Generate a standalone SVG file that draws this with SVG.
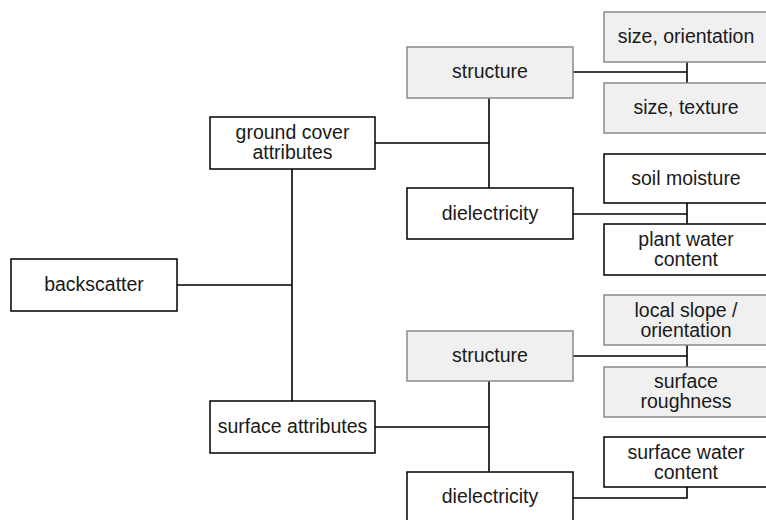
<svg xmlns="http://www.w3.org/2000/svg" width="766" height="520" viewBox="0 0 766 520">
  <style>
    .n { fill: #ffffff; stroke: #000000; stroke-width: 1.5; }
    .g { fill: #f0f0f0; stroke: #8a8a8a; stroke-width: 1.5; }
    .t { font-family: "Liberation Sans", Arial, sans-serif; font-size: 19.5px; fill: #1a1a1a; text-anchor: middle; }
    .c { fill: none; stroke: #000000; stroke-width: 1.6; }
  </style>
  <rect width="766" height="520" fill="#ffffff"/>

  <g id="connectors">
    <polyline class="c" points="177,285 292,285"/>
    <polyline class="c" points="292,169 292,401"/>
    <polyline class="c" points="375,143 489,143"/>
    <polyline class="c" points="489,98 489,188"/>
    <polyline class="c" points="375,427 489,427"/>
    <polyline class="c" points="489,381 489,472"/>
    <polyline class="c" points="573,72 687,72"/>
    <polyline class="c" points="687,62 687,83"/>
    <polyline class="c" points="573,214 687,214"/>
    <polyline class="c" points="687,203 687,224"/>
    <polyline class="c" points="573,356 687,356"/>
    <polyline class="c" points="687,345 687,367"/>
    <polyline class="c" points="573,498 687,498 687,487"/>
  </g>

  <g id="backscatter">
    <rect class="n" x="11" y="259" width="166" height="52"/>
    <text class="t" x="94" y="291">backscatter</text>
  </g>
  <g id="ground-cover-attributes">
    <rect class="n" x="210" y="117" width="165" height="52"/>
    <text class="t" x="292.5" y="139">ground cover</text>
    <text class="t" x="292.5" y="159">attributes</text>
  </g>
  <g id="surface-attributes">
    <rect class="n" x="210" y="401" width="165" height="52"/>
    <text class="t" x="292.5" y="433">surface attributes</text>
  </g>

  <g id="structure-cover">
    <rect class="g" x="407" y="47" width="166" height="51"/>
    <text class="t" x="490" y="78">structure</text>
  </g>
  <g id="dielectricity-cover">
    <rect class="n" x="407" y="188" width="166" height="51"/>
    <text class="t" x="490" y="220">dielectricity</text>
  </g>
  <g id="structure-surface">
    <rect class="g" x="407" y="331" width="166" height="50"/>
    <text class="t" x="490" y="362">structure</text>
  </g>
  <g id="dielectricity-surface">
    <rect class="n" x="407" y="472" width="166" height="51"/>
    <text class="t" x="490" y="503">dielectricity</text>
  </g>

  <g id="size-orientation">
    <rect class="g" x="604" y="12" width="166" height="50"/>
    <text class="t" x="686" y="43">size, orientation</text>
  </g>
  <g id="size-texture">
    <rect class="g" x="604" y="83" width="166" height="50"/>
    <text class="t" x="686" y="114">size, texture</text>
  </g>
  <g id="soil-moisture">
    <rect class="n" x="604" y="154" width="166" height="49"/>
    <text class="t" x="686" y="185">soil moisture</text>
  </g>
  <g id="plant-water-content">
    <rect class="n" x="604" y="224" width="166" height="51"/>
    <text class="t" x="686" y="246">plant water</text>
    <text class="t" x="686" y="266">content</text>
  </g>
  <g id="local-slope">
    <rect class="g" x="604" y="295" width="166" height="50"/>
    <text class="t" x="686" y="317">local slope /</text>
    <text class="t" x="686" y="337">orientation</text>
  </g>
  <g id="surface-roughness">
    <rect class="g" x="604" y="367" width="166" height="50"/>
    <text class="t" x="686" y="388">surface</text>
    <text class="t" x="686" y="408">roughness</text>
  </g>
  <g id="surface-water-content">
    <rect class="n" x="604" y="437" width="166" height="50"/>
    <text class="t" x="686" y="459">surface water</text>
    <text class="t" x="686" y="479">content</text>
  </g>
</svg>
